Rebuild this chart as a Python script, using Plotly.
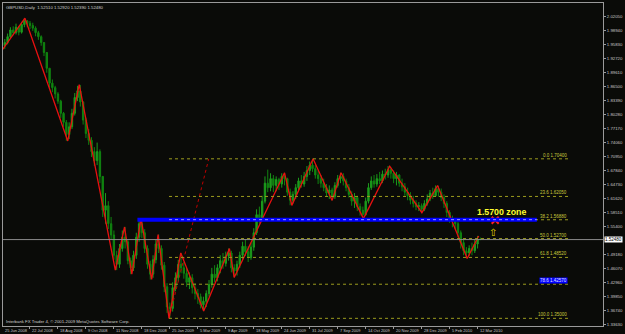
import plotly.graph_objects as go

# ---------------- data ----------------
bar_close = [1.962,1.975,1.990,1.984,1.996,1.985,2.002,2.010,2.005,2.000,
             1.994,1.984,1.975,1.962,1.940,1.905,1.872,1.862,1.848,1.832,
             1.805,1.785,1.758,1.775,1.805,1.840,1.855,1.830,1.790,1.760,
             1.745,1.720,1.700,1.720,1.665,1.590,1.600,1.560,1.535,1.490,
             1.470,1.505,1.530,1.520,1.478,1.462,1.490,1.530,1.560,1.540,
             1.505,1.470,1.448,1.480,1.515,1.505,1.468,1.420,1.375,1.372,
             1.418,1.440,1.470,1.462,1.450,1.430,1.440,1.418,1.405,1.398,
             1.380,1.388,1.405,1.425,1.448,1.440,1.462,1.478,1.472,1.488,
             1.495,1.462,1.455,1.470,1.490,1.510,1.498,1.485,1.508,1.540,
             1.580,1.570,1.610,1.650,1.640,1.660,1.645,1.658,1.648,1.665,
             1.660,1.630,1.612,1.625,1.640,1.655,1.648,1.665,1.678,1.690,
             1.682,1.668,1.660,1.650,1.640,1.628,1.635,1.620,1.645,1.660,
             1.665,1.655,1.640,1.625,1.610,1.618,1.598,1.590,1.580,1.610,
             1.640,1.655,1.648,1.660,1.655,1.670,1.668,1.680,1.672,1.660,
             1.668,1.650,1.642,1.630,1.622,1.612,1.605,1.598,1.600,1.592,
             1.605,1.615,1.628,1.622,1.638,1.630,1.618,1.605,1.585,1.572,
             1.565,1.560,1.540,1.518,1.500,1.495,1.505,1.500,1.515,1.5251,
             1.5248]
bar_high = [1.970,1.982,1.996,1.998,2.004,1.999,2.008,2.016,2.012,2.010,
            2.006,1.998,1.988,1.978,1.960,1.938,1.905,1.880,1.866,1.852,
            1.835,1.808,1.790,1.785,1.815,1.850,1.866,1.868,1.832,1.795,
            1.770,1.752,1.730,1.740,1.725,1.660,1.628,1.610,1.575,1.545,
            1.500,1.515,1.545,1.553,1.525,1.485,1.500,1.540,1.571,1.568,
            1.548,1.512,1.478,1.490,1.525,1.536,1.512,1.475,1.428,1.385,
            1.430,1.452,1.480,1.495,1.475,1.462,1.452,1.448,1.428,1.415,
            1.405,1.398,1.412,1.435,1.462,1.468,1.470,1.490,1.495,1.498,
            1.505,1.500,1.470,1.478,1.498,1.520,1.525,1.510,1.518,1.550,
            1.592,1.598,1.622,1.665,1.680,1.672,1.668,1.665,1.662,1.672,
            1.673,1.662,1.638,1.632,1.648,1.662,1.668,1.675,1.688,1.698,
            1.704,1.690,1.678,1.668,1.660,1.648,1.645,1.640,1.652,1.668,
            1.673,1.672,1.660,1.648,1.632,1.628,1.622,1.605,1.598,1.618,
            1.650,1.665,1.668,1.670,1.675,1.678,1.682,1.688,1.685,1.678,
            1.675,1.670,1.660,1.650,1.640,1.630,1.622,1.612,1.608,1.605,
            1.612,1.625,1.635,1.640,1.645,1.644,1.638,1.625,1.610,1.590,
            1.578,1.572,1.565,1.545,1.525,1.508,1.512,1.518,1.525,1.533,
            1.5292]
bar_low = [1.948,1.958,1.972,1.978,1.980,1.978,1.982,1.996,1.996,1.992,
           1.988,1.976,1.968,1.955,1.932,1.895,1.862,1.852,1.838,1.826,
           1.795,1.775,1.744,1.748,1.770,1.800,1.832,1.820,1.780,1.750,
           1.735,1.708,1.688,1.690,1.650,1.575,1.560,1.548,1.525,1.480,
           1.457,1.462,1.498,1.505,1.470,1.448,1.455,1.482,1.520,1.528,
           1.495,1.460,1.436,1.440,1.472,1.495,1.458,1.408,1.362,1.350,
           1.365,1.410,1.432,1.450,1.438,1.420,1.415,1.405,1.392,1.382,
           1.372,1.366,1.375,1.398,1.418,1.430,1.432,1.450,1.460,1.465,
           1.478,1.452,1.441,1.445,1.462,1.480,1.488,1.475,1.480,1.500,
           1.535,1.560,1.565,1.605,1.630,1.632,1.630,1.632,1.635,1.640,
           1.645,1.622,1.601,1.605,1.615,1.632,1.640,1.642,1.655,1.668,
           1.675,1.660,1.648,1.640,1.632,1.620,1.615,1.612,1.615,1.640,
           1.650,1.645,1.632,1.618,1.600,1.595,1.588,1.578,1.571,1.578,
           1.605,1.635,1.640,1.642,1.648,1.650,1.658,1.662,1.660,1.650,
           1.645,1.642,1.632,1.622,1.612,1.603,1.596,1.590,1.588,1.585,
           1.588,1.600,1.610,1.615,1.620,1.620,1.610,1.595,1.575,1.562,
           1.552,1.548,1.530,1.505,1.490,1.483,1.488,1.490,1.495,1.505,
           1.5239]
first_open = 1.955
bar_open = [first_open] + bar_close[:-1]
bar_index = list(range(1, len(bar_close) + 1))

zz_bar = [0.0, 8.2, 23.5, 27.6, 40.5, 43.8, 46.4, 49.7, 53.5, 55.8, 59.7, 63.9, 72.1,
          81.3, 83.0, 101.0, 103.6, 111.2, 118.0, 121.2, 129.2, 138.6, 150.1, 155.7,
          166.3, 170.4]
zz_price = [1.945, 2.016, 1.7436, 1.8684, 1.4569, 1.5527, 1.4480, 1.5713, 1.4363,
            1.5359, 1.3500, 1.4951, 1.3662, 1.5049, 1.4407, 1.6730, 1.6007, 1.7040,
            1.6117, 1.6730, 1.5713, 1.6876, 1.5845, 1.6449, 1.4828, 1.5328]

fib_names = ["0.0", "23.6", "38.2", "50.0", "61.8", "78.6", "100.0"]
fib_prices = [1.70400, 1.62050, 1.56880, 1.52700, 1.48520, 1.42570, 1.35000]
fib_span = [59.7, 202.5]
fib_anchor_bar = [59.7, 73.9]
fib_anchor_price = [1.3500, 1.7040]

zone_price = 1.5690
zone_span = [48.4, 191.2]
zone_label_pos = [178.6, 1.5852]
cross_pos = [176.3, 1.5675]
arrow_pos = [175.4, 1.5416]
bid_price = 1.5248

time_tick_bars = [0, 10, 20, 30, 40, 50, 60, 70, 80, 90, 100, 110, 120, 130, 140, 150, 160, 170]
time_labels = ["25 Jun 2008", "22 Jul 2008", "18 Aug 2008", "9 Oct 2008", "11 Nov 2008",
               "18 Dec 2008", "25 Jan 2009", "5 Mar 2009", "9 Apr 2009", "18 May 2009",
               "24 Jun 2009", "31 Jul 2009", "7 Sep 2009", "14 Oct 2009", "20 Nov 2009",
               "28 Dec 2009", "5 Feb 2010", "12 Mar 2010"]
price_ticks = [2.0205, 1.9894, 1.9583, 1.9272, 1.8961, 1.8650, 1.8339, 1.8028, 1.7717,
               1.7406, 1.7095, 1.6784, 1.6473, 1.6162, 1.5851, 1.5540, 1.4918, 1.4607,
               1.4296, 1.3985, 1.3674, 1.3363]
price_tick_text = ["%.5f" % v for v in price_ticks]

x_range = [0.353, 214.84]
y_range = [1.3330, 2.0498]

BG = "#0a0b08"
FONT = "Liberation Sans"
fig = go.Figure()

fig.add_trace(go.Candlestick(
    x=bar_index, open=bar_open, high=bar_high, low=bar_low, close=bar_close,
    increasing=dict(line=dict(color="#1c9c1c", width=1), fillcolor="#1c9c1c"),
    decreasing=dict(line=dict(color="#108410", width=1), fillcolor="#108410"),
    whiskerwidth=0, showlegend=False, hoverinfo="skip"))

# horizontal objects
shapes = []
shapes.append(dict(type="line", xref="paper", x0=0, x1=1, yref="y", y0=bid_price, y1=bid_price,
                   line=dict(color="#8a8a8a", width=1)))
for p in fib_prices:
    shapes.append(dict(type="line", xref="x", x0=fib_span[0], x1=fib_span[1], yref="y", y0=p, y1=p,
                       line=dict(color="#9c9c1e", width=1, dash="dot")))
shapes.append(dict(type="line", xref="x", x0=zone_span[0], x1=zone_span[1], yref="y",
                   y0=zone_price, y1=zone_price, line=dict(color="#0000ff", width=4)))
shapes.append(dict(type="line", xref="x", x0=fib_span[0], x1=zone_span[1], yref="y",
                   y0=zone_price, y1=zone_price, line=dict(color="#9a9aff", width=1, dash="dot")))

fig.add_trace(go.Scatter(x=fib_anchor_bar, y=fib_anchor_price, mode="lines",
                         line=dict(color="#c00000", width=1, dash="dot"),
                         showlegend=False, hoverinfo="skip"))
fig.add_trace(go.Scatter(x=zz_bar, y=zz_price, mode="lines",
                         line=dict(color="#e81010", width=1.3),
                         showlegend=False, hoverinfo="skip"))
fig.add_trace(go.Scatter(x=[cross_pos[0]], y=[cross_pos[1]], mode="markers",
                         marker=dict(symbol="x-thin", size=7, line=dict(color="#ff2020", width=2)),
                         showlegend=False, hoverinfo="skip"))

ann = []
for name, p in zip(fib_names, fib_prices):
    ann.append(dict(x=fib_span[1], y=p, xref="x", yref="y", xanchor="right", yanchor="bottom",
                    text="%s %.5f" % (name, p), showarrow=False, borderpad=0,
                    bgcolor="#0000ff" if name == "78.6" else "rgba(0,0,0,0)",
                    font=dict(family=FONT, size=4.5,
                              color="#e0e0ff" if name == "78.6" else "#c8c83c")))
span = x_range[1] - x_range[0]
for b, t in zip(time_tick_bars, time_labels):
    px = max(0.0, (b - x_range[0]) / span)
    ann.append(dict(x=px, y=0, xref="paper", yref="paper", xanchor="left", yanchor="top",
                    text=t, showarrow=False, xshift=1, yshift=-1, borderpad=0,
                    font=dict(family=FONT, size=4, color="#c8c8c8")))
ann.append(dict(x=0, y=1, xref="paper", yref="paper", xanchor="left", yanchor="top",
                text="GBPUSD,Daily  1.52510 1.52920 1.52390 1.52480", showarrow=False,
                xshift=2, yshift=-1, borderpad=0, font=dict(family=FONT, size=4.3, color="#d0d0d0")))
ann.append(dict(x=0, y=0, xref="paper", yref="paper", xanchor="left", yanchor="bottom",
                text="Interbank FX Trader 4, \u00a9 2001-2009 MetaQuotes Software Corp.",
                showarrow=False, xshift=2, yshift=1, borderpad=0,
                font=dict(family=FONT, size=4.3, color="#d0d0d0")))
ann.append(dict(x=zone_label_pos[0], y=zone_label_pos[1], xref="x", yref="y",
                text="<b>1.5700 zone</b>", showarrow=False, borderpad=0,
                font=dict(family=FONT, size=8.8, color="#ffff30")))
ann.append(dict(x=arrow_pos[0], y=arrow_pos[1], xref="x", yref="y", text="\u21e7",
                showarrow=False, borderpad=0, font=dict(family="DejaVu Sans", size=10, color="#e0d800")))
ann.append(dict(x=1, y=bid_price, xref="paper", yref="y", xanchor="left", yanchor="middle",
                text="%.5f" % bid_price, showarrow=False, xshift=1, borderpad=0, bgcolor="#ffffff",
                font=dict(family=FONT, size=4.5, color="#000000")))

fig.update_layout(
    width=625, height=334, margin=dict(l=2, r=16, t=2, b=8),
    paper_bgcolor=BG, plot_bgcolor=BG, shapes=shapes, annotations=ann,
    showlegend=False,
    xaxis=dict(range=x_range, showgrid=False, zeroline=False, rangeslider=dict(visible=False),
               showline=True, mirror=True, linecolor="#9a9a9a", linewidth=1,
               tickmode="array", tickvals=time_tick_bars, ticktext=[""] * len(time_tick_bars),
               ticks="outside", ticklen=2, tickcolor="#9a9a9a", showticklabels=False),
    yaxis=dict(range=y_range, side="right", showgrid=False, zeroline=False,
               showline=True, mirror=True, linecolor="#9a9a9a", linewidth=1,
               tickmode="array", tickvals=price_ticks, ticktext=price_tick_text,
               ticks="outside", ticklen=2, tickcolor="#9a9a9a",
               tickfont=dict(family=FONT, size=4.3, color="#c8c8c8")),
)

fig.write_html("out.html")
